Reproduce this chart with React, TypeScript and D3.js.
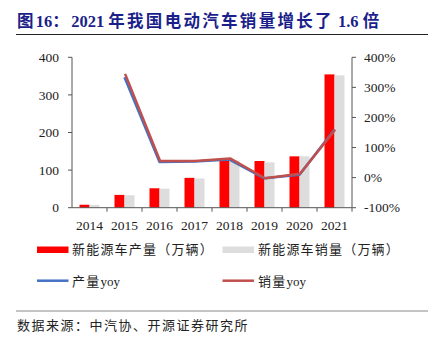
import React from "react";
import * as d3 from "d3";

const years = ["2014", "2015", "2016", "2017", "2018", "2019", "2020", "2021"];
const production = [7.85, 34.05, 51.7, 79.4, 127, 124.2, 136.6, 354.5];
const sales = [7.48, 33.1, 50.7, 77.7, 125.6, 120.6, 136.7, 352.1];
const prodYoy: (number | null)[] = [null, 333.7, 51.7, 53.8, 59.9, -2.3, 9.9, 159.5];
const salesYoy: (number | null)[] = [null, 342.9, 53.0, 53.3, 61.7, -4.0, 10.9, 157.5];
const leftTicks = [0, 100, 200, 300, 400];
const rightTicks = [-100, 0, 100, 200, 300, 400];

const W = 435;
const H = 344;
const serif = "'Liberation Serif', 'Times New Roman', 'Noto Sans CJK SC', serif";
const cjk = "'Liberation Serif', 'Noto Sans CJK SC', serif";

// split text into CJK / non-CJK runs, spacing only the CJK runs
function Spaced({ text, spacing }: { text: string; spacing: number }) {
  const runs: { t: string; c: boolean }[] = [];
  for (const ch of text) {
    const c = /[\u3000-\u9fff\uff00-\uffef]/.test(ch);
    if (runs.length && runs[runs.length - 1].c === c) runs[runs.length - 1].t += ch;
    else runs.push({ t: ch, c });
  }
  return (
    <>
      {runs.map((r, i) => (
        <tspan key={i} letterSpacing={r.c ? spacing : 0}>
          {r.t}
        </tspan>
      ))}
    </>
  );
}

export default function App() {
  const left = 72, right = 352, top = 57.3, bottom = 207.7;
  const x = d3.scaleBand<string>().domain(years).range([left, right]).paddingInner(0).paddingOuter(0);
  const yL = d3.scaleLinear().domain([0, 400]).range([bottom, top]);
  const yR = d3.scaleLinear().domain([-100, 400]).range([bottom, top]);
  const bw = 10;
  const center = (i: number) => (x(years[i]) as number) + x.bandwidth() / 2;
  const line = d3
    .line<number | null>()
    .defined((d) => d !== null)
    .x((_, i) => center(i))
    .y((d) => yR(d as number));
  const axisColor = "#555";

  return (
    <svg width={W} height={H} style={{ position: "absolute", left: 0, top: 0, background: "#fff" }}>
      <text x={17} y={27} fontFamily={cjk} fontWeight="bold" fontSize={16.5} fill="#1B1F8A">
        <Spaced text="图16：2021 年我国电动汽车销量增长了 1.6 倍" spacing={2.3} />
      </text>
      <line x1={16} x2={428} y1={34.5} y2={34.5} stroke="#222" strokeWidth={1} />

      {/* bars */}
      {years.map((yr, i) => {
        const x0 = x(yr) as number;
        const gs = x0 + (x.bandwidth() - 2 * bw) / 2;
        return (
          <g key={yr}>
            <rect x={gs} y={yL(production[i])} width={bw} height={bottom - yL(production[i])} fill="#FF0000" />
            <rect x={gs + bw} y={yL(sales[i])} width={bw} height={bottom - yL(sales[i])} fill="#DDDDDD" />
          </g>
        );
      })}

      {/* lines */}
      <path d={line(prodYoy) || ""} fill="none" stroke="#4472C4" strokeWidth={2.5} strokeLinejoin="round" />
      <path d={line(salesYoy) || ""} fill="none" stroke="#C0504D" strokeWidth={2.5} strokeLinejoin="round" transform="translate(0.6,-0.6)" />

      {/* left axis */}
      <line x1={left} x2={left} y1={top} y2={bottom} stroke={axisColor} />
      {leftTicks.map((t) => (
        <g key={t}>
          <line x1={left - 4} x2={left} y1={yL(t)} y2={yL(t)} stroke={axisColor} />
          <text x={59} y={yL(t)} dy="0.35em" textAnchor="end" fontFamily={serif} fontSize={13.5} fill="#222">
            {t}
          </text>
        </g>
      ))}
      {/* right axis */}
      <line x1={right} x2={right} y1={top} y2={bottom} stroke={axisColor} />
      {rightTicks.map((t) => (
        <g key={t}>
          <line x1={right} x2={right + 4} y1={yR(t)} y2={yR(t)} stroke={axisColor} />
          <text x={364} y={yR(t)} dy="0.35em" textAnchor="start" fontFamily={serif} fontSize={13.5} fill="#222">
            {t + "%"}
          </text>
        </g>
      ))}
      {/* bottom axis */}
      <line x1={left} x2={right} y1={bottom} y2={bottom} stroke={axisColor} />
      {years.map((yr, i) => (
        <g key={yr}>
          <line x1={(x(yr) as number) + x.bandwidth()} x2={(x(yr) as number) + x.bandwidth()} y1={bottom} y2={bottom + 4} stroke={axisColor} />
          <text x={center(i)} y={230} textAnchor="middle" fontFamily={serif} fontSize={13.5} fill="#222">
            {yr}
          </text>
        </g>
      ))}

      {/* legend */}
      <rect x={37} y={246.5} width={31.5} height={6.5} fill="#FF0000" />
      <text x={72} y={249.5} dy="0.35em" fontFamily={cjk} fontSize={13} fill="#222">
        <Spaced text="新能源车产量（万辆）" spacing={1.2} />
      </text>
      <rect x={222.5} y={246.5} width={31.5} height={6.5} fill="#DDDDDD" />
      <text x={258} y={249.5} dy="0.35em" fontFamily={cjk} fontSize={13} fill="#222">
        <Spaced text="新能源车销量（万辆）" spacing={1.2} />
      </text>
      <line x1={37} x2={68.5} y1={280.7} y2={280.7} stroke="#4472C4" strokeWidth={2.5} />
      <text x={72} y={281} dy="0.35em" fontFamily={cjk} fontSize={13} fill="#222">
        <Spaced text="产量yoy" spacing={1.2} />
      </text>
      <line x1={222.5} x2={254} y1={280.7} y2={280.7} stroke="#C0504D" strokeWidth={2.5} />
      <text x={258} y={281} dy="0.35em" fontFamily={cjk} fontSize={13} fill="#222">
        <Spaced text="销量yoy" spacing={1.2} />
      </text>

      <line x1={16} x2={428} y1={311} y2={311} stroke="#888" strokeWidth={1} />
      <text x={17} y={325} dy="0.35em" fontFamily={cjk} fontSize={13} fill="#222">
        <Spaced text="数据来源：中汽协、开源证券研究所" spacing={1.5} />
      </text>
    </svg>
  );
}
